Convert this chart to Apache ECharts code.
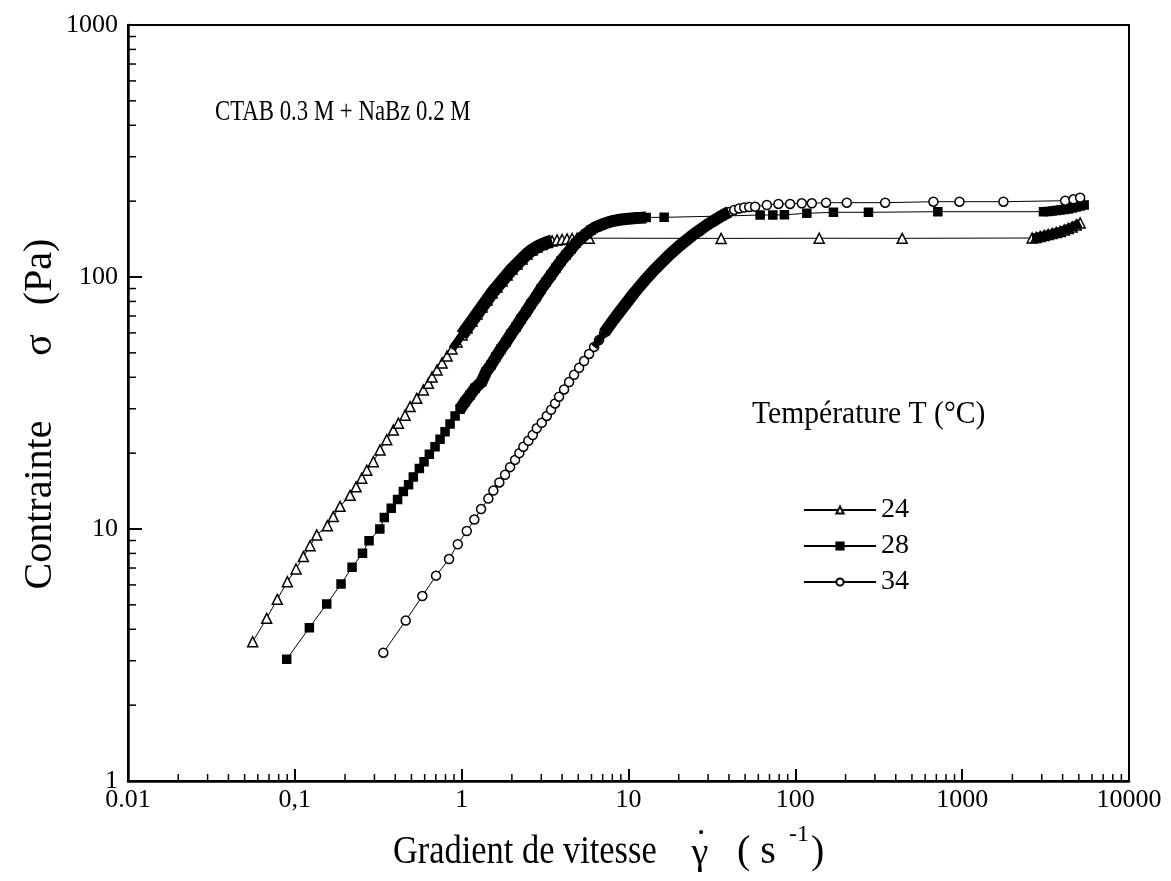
<!DOCTYPE html>
<html><head><meta charset="utf-8">
<script src="https://cdn.jsdelivr.net/npm/echarts@6/dist/echarts.min.js"></script>
<style>html,body{margin:0;padding:0;background:#fff}#c{width:1171px;height:881px}</style>
</head><body><div id="c"></div>
<script>
const xTickLabels = ['0.01','0,1','1','10','100','1000','10000'];
const yTickLabels = ['1','10','100','1000'];
const seriesNames = ['24','28','34'];

// T = 24 °C (open triangles)
const t24Low = [[0.0559,3.57],[0.0678,4.42],[0.0785,5.26],[0.0902,6.18],[0.1017,6.94],[0.1125,7.77],[0.1234,8.58],[0.1353,9.47],[0.1566,10.3],[0.170,11.2],[0.1866,12.3],[0.2143,13.6],[0.2328,14.7],[0.2519,15.9],[0.270,17.1],[0.2955,18.5],[0.324,20.6],[0.3556,22.6],[0.3895,24.7],[0.4174,26.3],[0.4577,28.3],[0.4905,30.6],[0.538,33.0],[0.5894,35.6],[0.6316,37.9]];
const t24Band = [[0.6646,40.1],[0.7119,42.8],[0.7630,45.6],[0.8175,48.6],[0.8758,51.8],[0.9384,55.2],[1.005,58.9],[1.077,62.8],[1.154,66.9],[1.237,71.3],[1.325,76.0],[1.420,81.0],[1.521,86.4],[1.630,91.3],[1.746,96.4],[1.872,101.9],[2.005,107.6],[2.148,112.6],[2.301,117.9],[2.466,123.4],[2.642,128.0],[2.831,131.5],[3.034,134.6],[3.251,137.1],[3.483,139.0],[3.732,140.3],[3.998,140.9],[4.284,141.5],[4.589,142.2],[4.918,142.4]];
const t24Plateau = [[5.803,142.6],[35.9,142.3],[139,142.5],[437,142.4]];
const t24End = [[2627,142.8],[2776,143.5],[2934,144.8],[3101,146.1],[3277,147.5],[3463,148.8],[3660,150.2],[3868,151.6],[4087,153.7],[4319,155.8],[4564,157.9],[4824,160.8],[5096,163.8]];

// T = 28 °C (filled squares)
const t28Low = [[0.0894,3.04],[0.1222,4.06],[0.1553,5.04],[0.1892,6.05],[0.2203,7.05],[0.2545,8.01],[0.2785,8.99],[0.3232,10.0],[0.3439,11.1],[0.3783,12.1],[0.4128,13.1],[0.4471,14.1],[0.4804,15.0],[0.5131,16.1],[0.5577,17.4],[0.5950,18.5],[0.6402,19.8],[0.6925,21.2],[0.7420,22.7],[0.7950,24.3],[0.8520,26.1],[0.9130,28.1],[0.9779,29.9],[1.048,32.0],[1.123,34.0],[1.203,36.2],[1.319,38.4]];
const t28Band = [[1.400,42.0],[1.500,44.8],[1.608,48.2],[1.722,51.8],[1.846,55.2],[1.978,59.4],[2.119,63.3],[2.271,68.1],[2.433,72.6],[2.607,78.1],[2.793,83.3],[2.993,89.6],[3.207,95.5],[3.436,101.9],[3.682,108.6],[3.945,115.8],[4.227,122.3],[4.529,129.2],[4.853,136.5],[5.200,142.8],[5.572,148.2],[5.970,153.7],[6.397,158.0],[6.854,160.9],[7.344,163.8],[7.869,166.1],[8.432,167.6],[9.035,169.1],[9.681,169.9],[10.37,170.7],[11.11,171.5],[11.91,171.8],[12.76,172.3]];
const t28Plateau = [[16.35,172.5],[36.2,174.5],[61.5,176.2],[73.3,176.2],[86.0,176.5],[117.2,179.0],[169.2,180.6],[274.3,180.6],[714.8,181.6],[3071,181.6]];
const t28End = [[3277,182.0],[3463,182.8],[3660,183.6],[3868,184.5],[4087,185.3],[4319,186.2],[4564,187.9],[4824,189.6],[5096,191.3],[5385,193.1]];

// T = 34 °C (open circles)
const t34Low = [[0.3392,3.23],[0.4621,4.33],[0.5812,5.42],[0.7022,6.53],[0.8403,7.60],[0.9476,8.70],[1.073,9.82],[1.191,10.9],[1.307,12.0],[1.445,13.2],[1.549,14.2],[1.682,15.3],[1.820,16.4],[1.950,17.6],[2.090,18.8],[2.217,20.0],[2.343,21.2],[2.511,22.4],[2.668,23.6],[2.819,25.1],[3.021,26.4],[3.237,28.1],[3.435,29.7],[3.630,31.5],[3.835,33.5]];
const t34Band = [[4.110,35.8],[4.404,38.3],[4.719,40.9],[5.056,43.6],[5.418,46.4],[5.805,49.5],[6.220,52.8],[6.665,56.2],[7.142,60.0],[7.652,63.9],[8.199,68.1],[8.786,72.3],[9.414,76.7],[10.09,81.4],[10.81,86.4],[11.58,91.3],[12.41,96.4],[13.30,101.4],[14.25,106.6],[15.27,111.6],[16.36,116.8],[17.53,122.3],[18.78,127.4],[20.13,132.8],[21.57,137.7],[23.11,142.8],[24.76,148.2],[26.53,153.0],[28.43,158.0],[30.46,163.1],[32.64,167.6],[34.97,172.3],[37.47,177.1],[40.15,181.1],[43.02,184.5],[46.10,187.1],[49.39,188.7],[52.93,189.6]];
const t34Plateau = [[57.4,190.1],[67.5,193.1],[79.2,194.9],[93.0,194.9],[109.3,196.1],[125.6,196.1],[152.9,197.2],[203.5,197.2],[345.4,197.2],[672.7,199.0],[962.9,199.0],[1768,199.0],[4144,200.8],[4647,203.4],[5096,206.4]];

const FONT = 'Liberation Serif, Times New Roman, serif';
const minorX = [];
for (let e = -2; e < 4; e++) for (let m = 2; m < 10; m++) minorX.push(m * Math.pow(10, e));
const minorY = [];
for (let e = 0; e < 3; e++) for (let m = 2; m < 10; m++) minorY.push(m * Math.pow(10, e));

function mainSeries(name, data, symbol, size, fill) {
  return {
    name: name, type: 'line', data: data, symbol: symbol, symbolSize: size,
    showAllSymbol: true, animation: false, silent: true, z: 3,
    lineStyle: {color: '#000', width: 1},
    itemStyle: {color: fill, borderColor: '#000', borderWidth: 1.5}
  };
}
function bandSeries(data, width) {
  return {
    type: 'line', data: data, symbol: 'none', animation: false, silent: true, z: 4,
    lineStyle: {color: '#000', width: width, cap: 'butt', join: 'round'}
  };
}
function tickSeries(data, dir) {
  return {
    type: 'custom', silent: true, animation: false, clip: false, z: 6,
    data: data, encode: {x: 0, y: 1},
    renderItem: function (params, api) {
      const p = api.coord([api.value(0), api.value(1)]);
      const shape = dir === 'x'
        ? {x1: p[0], y1: p[1], x2: p[0], y2: p[1] - 7}
        : {x1: p[0], y1: p[1], x2: p[0] + 8, y2: p[1]};
      return {type: 'line', shape: shape, style: {stroke: '#000', lineWidth: 1.5}};
    }
  };
}
function txt(x, y, text, size, opts) {
  const o = opts || {};
  return {
    type: 'text', x: x, y: y, rotation: o.rot || 0, scaleX: o.sx || 1, silent: true,
    style: {text: text, x: 0, y: 0, fill: '#000', font: size + 'px ' + FONT,
      textAlign: o.align || 'left', align: o.align || 'left',
      textVerticalAlign: 'middle', verticalAlign: 'middle'}
  };
}

const chart = echarts.init(document.getElementById('c'), null, {renderer: 'canvas'});
chart.setOption({
  backgroundColor: '#fff',
  animation: false,
  grid: {left: 128, right: 42, top: 25, bottom: 100, show: true, borderColor: '#000', borderWidth: 2, backgroundColor: 'transparent'},
  xAxis: {
    type: 'log', logBase: 10, min: 0.01, max: 10000, splitNumber: 6,
    axisLine: {show: true, lineStyle: {color: '#000', width: 2.5}},
    axisTick: {show: true, inside: true, length: 12, lineStyle: {color: '#000', width: 2}},
    splitLine: {show: false},
    axisLabel: {
      show: true, margin: 6, color: '#000', fontFamily: FONT, fontSize: 26,
      showMinLabel: true, showMaxLabel: true,
      formatter: function (v) { return xTickLabels[Math.round(Math.log10(v)) + 2]; }
    }
  },
  yAxis: {
    type: 'log', logBase: 10, min: 1, max: 1000, splitNumber: 3,
    axisLine: {show: true, lineStyle: {color: '#000', width: 2.5}},
    axisTick: {show: true, inside: true, length: 14, lineStyle: {color: '#000', width: 2}},
    splitLine: {show: false},
    axisLabel: {
      show: true, margin: 10, color: '#000', fontFamily: FONT, fontSize: 26,
      showMinLabel: true, showMaxLabel: true,
      formatter: function (v) { return yTickLabels[Math.round(Math.log10(v))]; }
    }
  },
  legend: {
    data: seriesNames, orient: 'vertical', left: 803, top: 496, padding: 0,
    itemWidth: 72, itemHeight: 9, itemGap: 8, selectedMode: false,
    textStyle: {fontFamily: FONT, fontSize: 28, color: '#000'}
  },
  graphic: [
    txt(215, 112, 'CTAB 0.3 M + NaBz 0.2 M', 30, {sx: 0.76}),
    txt(752, 415, 'Température T (°C)', 31, {sx: 0.955}),
    txt(40, 505, 'Contrainte', 40, {rot: Math.PI / 2, align: 'center'}),
    txt(40, 345, 'σ', 40, {rot: Math.PI / 2, align: 'center'}),
    txt(40, 272, '(Pa)', 40, {rot: Math.PI / 2, align: 'center'}),
    txt(393, 852, 'Gradient de vitesse', 40, {sx: 0.86}),
    txt(700, 854, 'γ', 38, {align: 'center'}),
    txt(701, 845, '˙', 38, {align: 'center'}),
    txt(737, 852, '( s', 40),
    txt(789, 835, '-1', 24),
    txt(811, 852, ')', 40)
  ],
  series: [
    mainSeries('24', t24Low.concat(t24Band, t24Plateau, t24End), 'triangle', 10, '#fff'),
    mainSeries('28', t28Low.concat(t28Band, t28Plateau, t28End), 'rect', 8, '#000'),
    mainSeries('34', t34Low.concat(t34Band, t34Plateau), 'circle', 9, '#fff'),
    bandSeries(t24Band.slice(4, 8), 8),
    bandSeries(t24Band.slice(6, 25), 13),
    bandSeries(t24End, 9),
    bandSeries(t28Low.slice(-5).concat(t28Band), 12),
    bandSeries(t28End, 8),
    bandSeries(t34Band.slice(6, 10), 7),
    bandSeries(t34Band.slice(8, 34), 12),
    tickSeries(minorX.map(function (v) { return [v, 1]; }), 'x'),
    tickSeries(minorY.map(function (v) { return [0.01, v]; }), 'y')
  ]
});
</script>
</body></html>
